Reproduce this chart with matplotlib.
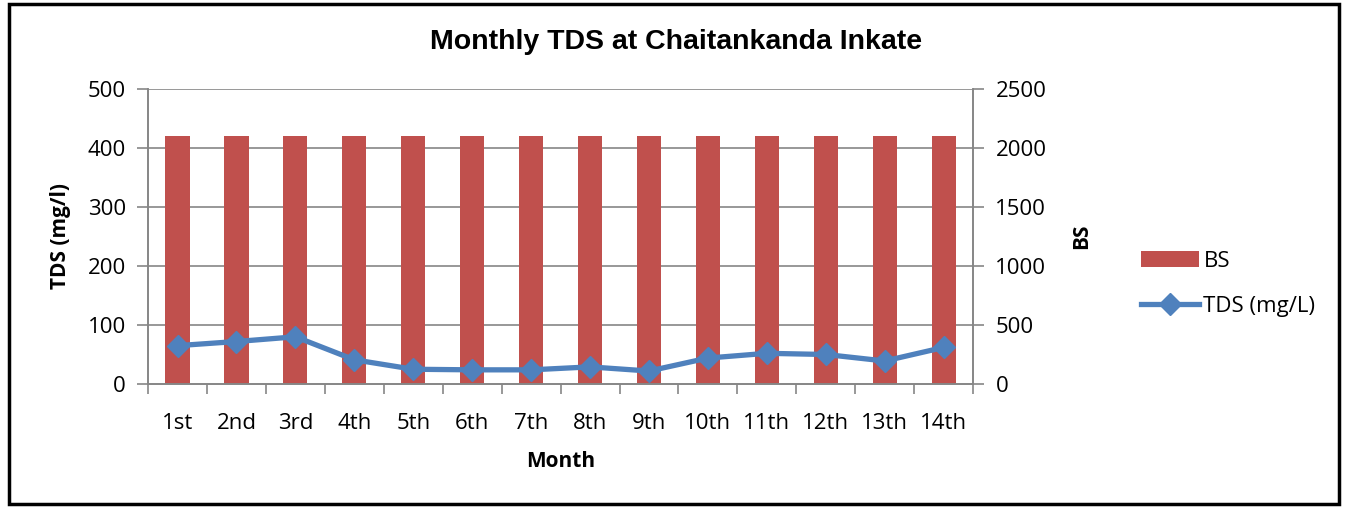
import matplotlib.pyplot as plt
from matplotlib.patches import Rectangle
from matplotlib.lines import Line2D
from matplotlib.patches import Patch
import numpy as np

months = ['1st', '2nd', '3rd', '4th', '5th', '6th', '7th',
          '8th', '9th', '10th', '11th', '12th', '13th', '14th']
tds = [65, 72, 80, 41, 25, 24, 24, 29, 22, 44, 52, 50, 39, 62]
bs = [2100] * 14

bar_color = '#C0504D'
line_color = '#4F81BD'
grid_color = '#868686'
font = 'Open Sans'

fig = plt.figure(figsize=(13.46, 5.07), dpi=100)
fig.patches.append(Rectangle((0.0065, 0.006), 0.9885, 0.987, transform=fig.transFigure,
                             fill=False, edgecolor='black', linewidth=2.5))

ax = fig.add_axes([0.110, 0.2426, 0.613, 0.582])
ax2 = ax.twinx()

x = np.arange(len(months))

# bars on the secondary (BS) axis, drawn behind the line
ax2.bar(x, bs, width=0.41, color=bar_color, zorder=2)
ax2.set_ylim(0, 2500)
ax2.set_yticks(np.arange(0, 2501, 500))

ax.set_zorder(ax2.get_zorder() + 1)
ax.patch.set_visible(False)
ax.plot(x, tds, color=line_color, linewidth=3.8, marker='D', markersize=11.5,
        zorder=5)
ax.set_ylim(0, 500)
ax.set_xlim(-0.5, len(months) - 0.5)
ax.set_yticks(np.arange(0, 501, 100))
ax.set_xticks(x)
ax.set_xticklabels(months)
ax.set_xticks(np.arange(-0.5, len(months), 1), minor=True)
ax.tick_params(axis='x', which='major', length=0, pad=21)
ax.tick_params(axis='x', which='minor', length=7, color=grid_color, width=1.2)
ax.tick_params(axis='y', length=8, color=grid_color, width=1.2, pad=8)
ax2.tick_params(axis='y', length=8, color=grid_color, width=1.2, pad=8)

# gridlines drawn behind bars on ax2 to match
for v in np.arange(100, 501, 100):
    ax2.axhline(v * 5, color=grid_color, linewidth=1.2, zorder=1)

for a in (ax, ax2):
    a.spines['top'].set_visible(False)
    for s in ('left', 'right', 'bottom'):
        a.spines[s].set_color(grid_color)
        a.spines[s].set_linewidth(1.2)
    for lab in a.get_yticklabels() + a.get_xticklabels():
        lab.set_fontfamily(font)
        lab.set_fontsize(16)

ax.set_ylabel('TDS (mg/l)', fontfamily=font, fontsize=15, fontweight='bold', labelpad=12)
ax2.set_ylabel('BS', fontfamily=font, fontsize=15, fontweight='bold', labelpad=18)
ax.set_xlabel('Month', fontfamily=font, fontsize=15, fontweight='bold', labelpad=12)

fig.text(0.502, 0.917, 'Monthly TDS at Chaitankanda Inkate', ha='center', va='center',
         fontfamily='Liberation Sans', fontsize=20.5, fontweight='bold')

handles = [Patch(facecolor=bar_color, edgecolor='none', label='BS'),
           Line2D([0], [0], color=line_color, linewidth=3.8, marker='D',
                  markersize=11.5, label='TDS (mg/L)')]
fig.legend(handles=handles, loc='center left', bbox_to_anchor=(0.833, 0.44),
           frameon=False, prop={'family': font, 'size': 16}, handlelength=2.6,
           handletextpad=0.2, labelspacing=1.1)

fig.savefig('out.png', dpi=100, facecolor='white')
